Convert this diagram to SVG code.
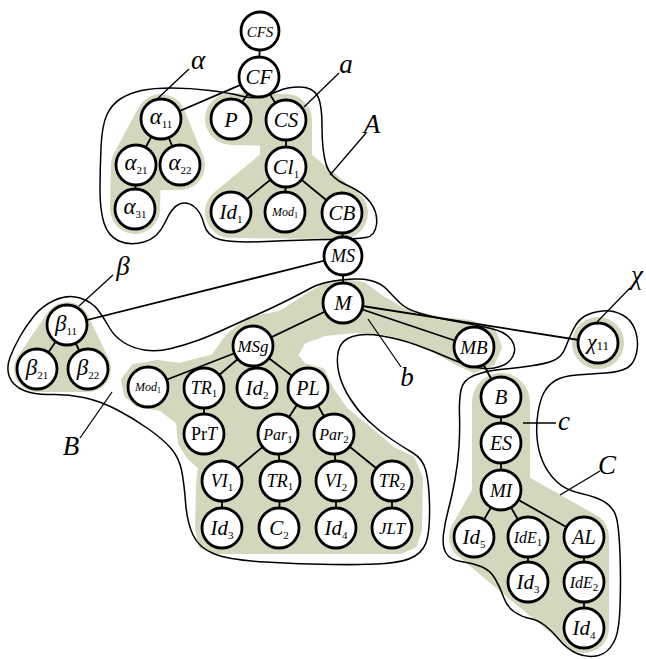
<svg xmlns="http://www.w3.org/2000/svg" width="646" height="659" viewBox="0 0 646 659" font-family="Liberation Serif, Times New Roman, serif">
<style>
.g{fill:#d4d7bd;stroke:#d4d7bd;stroke-linejoin:round;stroke-linecap:round}
.o{fill:none;stroke:#000;stroke-width:1.5}
#edges line{stroke:#000;stroke-width:1.8}
.n circle{fill:#fff;stroke:#000;stroke-width:2.8}
text{font-style:italic;text-anchor:middle;fill:#000}
.s{font-style:normal;font-size:11px}
.lab{font-size:27px}
.ld{stroke:#000;stroke-width:1.3}
</style>
<rect width="646" height="659" fill="#fff"/>
<g id="regions">
<path class="g" stroke-width="50" d="M161,119 L180,165 L136,165 L135,209 L136,165 Z"/>
<path class="g" stroke-width="52" d="M231,119 L286,120 L286,167 L231,212 L342,213 L286,167"/>
<path class="g" stroke-width="46" d="M67,325 L37,369 L88,369 Z"/>
<circle class="g" cx="598" cy="343" r="25" stroke-width="2"/>
<path class="g" stroke-width="58" fill="none" d="M501,402 L501,490"/>
<path class="g" stroke-width="50" d="M501,490 L584,537 L584,628 L528,582 L474,537 Z"/>
<path class="g" stroke-width="6" d="M343,282 L363,285 L378,296 L403,311 L440,320 L470,323 L492,330 L499,347 L492,363 L474,370 L455,361 L420,342 L385,332 L355,330 L325,333 L303,341 L295,355 L303,366 L322,371 L331,390 L345,410 L367,428 L393,450 L412,459 L420,478 L419,530 L414,545 L400,551 L215,551 L201,545 L198,528 L199,485 L201,467 L189,456 L181,443 L179,422 L161,408 L138,404 L127,395 L124,380 L134,367 L158,363 L180,366 L195,362 L214,357 L228,337 L248,320 L280,314 L305,298 L326,285 Z"/>
</g>
<g id="outlines">
<path id="A" class="o" d="M100,190 Q100,170 101,147.5 Q102,125 107,114.5 Q112,104 121,98.5 Q130,93 141.5,90.5 Q153,88 171.5,88 Q190,88 210,90.5 Q230,93 241,96 Q252,99 261,97 Q270,95 278.5,91 Q287,87 299.5,87 Q312,87 317,95 Q322,103 322,126.5 Q322,150 326,164 Q330,178 346.5,185 Q363,192 370.5,202.5 Q378,213 376.5,224.5 Q375,236 366,237.5 Q357,239 328.5,239.5 Q300,240 266,241.5 Q232,243 219.5,239.5 Q207,236 204,224 Q201,212 194,206.5 Q187,201 179.5,204 Q172,207 165,222.5 Q158,238 144,242 Q130,246 119,241 Q108,236 104,223 Q100,210 100,190 Z"/>
<path id="B" class="o" d="M34,316 Q42,306 55,300 Q68,294 80,298 Q92,302 98,310 Q104,318 109,327 Q114,336 123,342 Q132,348 144.5,350 Q157,352 171,348.5 Q185,345 197.5,340.5 Q210,336 225,329 Q240,322 255,315.5 Q270,309 285,301.5 Q300,294 311,288 Q322,282 341,280 Q360,278 370.5,280.5 Q381,283 387,289.5 Q393,296 399.5,302.5 Q406,309 419,313 Q432,317 454,321 Q476,325 491,328.5 Q506,332 511.5,340 Q517,348 513,356 Q509,364 498.5,367 Q488,370 476.5,367.5 Q465,365 449,358 Q433,351 416.5,345 Q400,339 382,336 Q364,333 352.5,336.5 Q341,340 338.5,350.5 Q336,361 339,373.5 Q342,386 350,398.5 Q358,411 368.5,421 Q379,431 391,439 Q403,447 413,453 Q423,459 426,471 Q429,483 429.5,504 Q430,525 427.5,537.5 Q425,550 415,556 Q405,562 385,563.5 Q365,565 332.5,564.5 Q300,564 265,562 Q230,560 214.5,554 Q199,548 193,535 Q187,522 185.5,502 Q184,482 181.5,470 Q179,458 171.5,449 Q164,440 148.5,429 Q133,418 116.5,409.5 Q100,401 83.5,397.5 Q67,394 51,394.5 Q35,395 24,390.5 Q13,386 9.5,377 Q6,368 10,357.5 Q14,347 20,336.5 Q26,326 34,316 Z"/>
<path id="C" class="o" d="M461,390 Q463,380 474,375.5 Q485,371 500,369.5 Q515,368 530,366 Q545,364 553.5,360.5 Q562,357 565.5,347.5 Q569,338 573.5,329 Q578,320 585,316 Q592,312 602.5,311 Q613,310 622.5,315 Q632,320 635.5,331 Q639,342 636.5,353 Q634,364 627,368 Q620,372 605,373 Q590,374 576.5,375 Q563,376 555.5,380.5 Q548,385 544,392.5 Q540,400 538,412.5 Q536,425 537,437.5 Q538,450 542.5,461 Q547,472 556,481 Q565,490 581,493.5 Q597,497 605.5,502.5 Q614,508 616.5,518 Q619,528 620,554 Q621,580 620,607 Q619,634 613.5,642.5 Q608,653 598.5,655.5 Q587,658 577,653.5 Q567,649 559.5,640 Q552,631 545,625.5 Q538,620 530,618.5 Q522,617 514.5,612 Q507,607 503.5,597 Q500,587 495,578.5 Q490,570 481,566.5 Q472,563 461,561.5 Q450,560 446,553 Q442,546 443.5,534 Q445,522 448.5,509 Q452,496 455,479.5 Q458,463 459,446.5 Q460,430 459.5,415 Q459,400 461,390 Z"/>
</g>
<g id="edges">
<line x1="260" y1="31" x2="259" y2="77"/>
<line x1="259" y1="77" x2="161" y2="119"/>
<line x1="259" y1="77" x2="231" y2="119"/>
<line x1="259" y1="77" x2="286" y2="120"/>
<line x1="161" y1="119" x2="136" y2="165"/>
<line x1="161" y1="119" x2="180" y2="165"/>
<line x1="136" y1="165" x2="135" y2="209"/>
<line x1="286" y1="120" x2="286" y2="167"/>
<line x1="286" y1="167" x2="231" y2="212"/>
<line x1="286" y1="167" x2="285" y2="212"/>
<line x1="286" y1="167" x2="342" y2="213"/>
<line x1="342" y1="213" x2="343" y2="256"/>
<line x1="343" y1="256" x2="343" y2="303"/>
<line x1="343" y1="256" x2="67" y2="325"/>
<line x1="67" y1="325" x2="37" y2="369"/>
<line x1="67" y1="325" x2="88" y2="369"/>
<line x1="343" y1="303" x2="253" y2="346"/>
<line x1="343" y1="303" x2="474" y2="347"/>
<line x1="343" y1="303" x2="598" y2="343"/>
<line x1="253" y1="346" x2="148" y2="387"/>
<line x1="253" y1="346" x2="204" y2="388"/>
<line x1="253" y1="346" x2="257" y2="388"/>
<line x1="253" y1="346" x2="308" y2="388"/>
<line x1="204" y1="388" x2="204" y2="434"/>
<line x1="308" y1="388" x2="278" y2="434"/>
<line x1="308" y1="388" x2="334" y2="434"/>
<line x1="278" y1="434" x2="222" y2="481"/>
<line x1="278" y1="434" x2="280" y2="481"/>
<line x1="334" y1="434" x2="336" y2="481"/>
<line x1="334" y1="434" x2="392" y2="481"/>
<line x1="222" y1="481" x2="222" y2="528"/>
<line x1="280" y1="481" x2="279" y2="528"/>
<line x1="336" y1="481" x2="336" y2="528"/>
<line x1="392" y1="481" x2="392" y2="528"/>
<line x1="474" y1="347" x2="501" y2="397"/>
<line x1="501" y1="397" x2="501" y2="443"/>
<line x1="501" y1="443" x2="501" y2="490"/>
<line x1="501" y1="490" x2="474" y2="537"/>
<line x1="501" y1="490" x2="528" y2="537"/>
<line x1="501" y1="490" x2="584" y2="537"/>
<line x1="528" y1="537" x2="528" y2="582"/>
<line x1="584" y1="537" x2="584" y2="582"/>
<line x1="584" y1="582" x2="584" y2="628"/>
</g>
<g id="n-CFS" class="n"><circle cx="260" cy="31" r="19"/><text x="260" y="36.5" font-size="15">CFS</text></g>
<g id="n-CF" class="n"><circle cx="259" cy="77" r="20"/><text x="259" y="84" font-size="21">CF</text></g>
<g id="n-a11" class="n"><circle cx="161" cy="119" r="20"/><text x="161" y="124" font-size="23">α<tspan class="s" dy="4">11</tspan></text></g>
<g id="n-P" class="n"><circle cx="231" cy="119" r="20"/><text x="231" y="126.5" font-size="22">P</text></g>
<g id="n-CS" class="n"><circle cx="286" cy="120" r="20"/><text x="286" y="127" font-size="21">CS</text></g>
<g id="n-a21" class="n"><circle cx="136" cy="165" r="20"/><text x="136" y="170" font-size="23">α<tspan class="s" dy="4">21</tspan></text></g>
<g id="n-a22" class="n"><circle cx="180" cy="165" r="20"/><text x="180" y="170" font-size="23">α<tspan class="s" dy="4">22</tspan></text></g>
<g id="n-Cl1" class="n"><circle cx="286" cy="167" r="20"/><text x="286" y="174" font-size="22">Cl<tspan class="s" dy="4">1</tspan></text></g>
<g id="n-a31" class="n"><circle cx="135" cy="209" r="20"/><text x="135" y="214" font-size="23">α<tspan class="s" dy="4">31</tspan></text></g>
<g id="n-Id1" class="n"><circle cx="231" cy="212" r="20"/><text x="231" y="219" font-size="21">Id<tspan class="s" dy="4">1</tspan></text></g>
<g id="n-Mod1a" class="n"><circle cx="285" cy="212" r="20"/><text x="285" y="216" font-size="12">Mod<tspan font-style="normal" font-size="8" dy="2">1</tspan></text></g>
<g id="n-CB" class="n"><circle cx="342" cy="213" r="20"/><text x="342" y="220" font-size="21">CB</text></g>
<g id="n-MS" class="n"><circle cx="343" cy="256" r="19"/><text x="343" y="262" font-size="18">MS</text></g>
<g id="n-M" class="n"><circle cx="343" cy="303" r="20"/><text x="343" y="310" font-size="21">M</text></g>
<g id="n-b11" class="n"><circle cx="67" cy="325" r="20"/><text x="66" y="331" font-size="23">β<tspan class="s" dy="4">11</tspan></text></g>
<g id="n-b21" class="n"><circle cx="37" cy="369" r="20"/><text x="37" y="375" font-size="23">β<tspan class="s" dy="4">21</tspan></text></g>
<g id="n-b22" class="n"><circle cx="88" cy="369" r="20"/><text x="88" y="375" font-size="23">β<tspan class="s" dy="4">22</tspan></text></g>
<g id="n-MSg" class="n"><circle cx="253" cy="346" r="20"/><text x="253" y="351.5" font-size="17">MSg</text></g>
<g id="n-MB" class="n"><circle cx="474" cy="347" r="20"/><text x="474" y="353.5" font-size="19">MB</text></g>
<g id="n-x11" class="n"><circle cx="598" cy="343" r="20"/><text x="598" y="349" font-size="22">χ<tspan font-style="normal" font-size="13" dy="1">11</tspan></text></g>
<g id="n-Mod1b" class="n"><circle cx="148" cy="387" r="20"/><text x="148" y="391" font-size="12">Mod<tspan font-style="normal" font-size="8" dy="2">1</tspan></text></g>
<g id="n-TR1a" class="n"><circle cx="204" cy="388" r="20"/><text x="204" y="394" font-size="18">TR<tspan class="s" dy="3">1</tspan></text></g>
<g id="n-Id2" class="n"><circle cx="257" cy="388" r="20"/><text x="257" y="394.5" font-size="21">Id<tspan class="s" dy="4">2</tspan></text></g>
<g id="n-PL" class="n"><circle cx="308" cy="388" r="20"/><text x="308" y="395" font-size="20">PL</text></g>
<g id="n-PrT" class="n"><circle cx="204" cy="434" r="20"/><text x="204" y="440" font-size="18"><tspan font-style="normal">Pr</tspan>T</text></g>
<g id="n-Par1" class="n"><circle cx="278" cy="434" r="20"/><text x="278" y="439.5" font-size="16">Par<tspan class="s" font-size="9" dy="3">1</tspan></text></g>
<g id="n-Par2" class="n"><circle cx="334" cy="434" r="20"/><text x="334" y="439.5" font-size="16">Par<tspan class="s" font-size="9" dy="3">2</tspan></text></g>
<g id="n-B" class="n"><circle cx="501" cy="397" r="20"/><text x="501" y="404" font-size="21">B</text></g>
<g id="n-ES" class="n"><circle cx="501" cy="443" r="20"/><text x="501" y="449.5" font-size="20">ES</text></g>
<g id="n-VI1" class="n"><circle cx="222" cy="481" r="20"/><text x="222" y="486.5" font-size="18">VI<tspan class="s" dy="4">1</tspan></text></g>
<g id="n-TR1b" class="n"><circle cx="280" cy="481" r="20"/><text x="280" y="486.5" font-size="18">TR<tspan class="s" dy="3">1</tspan></text></g>
<g id="n-VI2" class="n"><circle cx="336" cy="481" r="20"/><text x="336" y="486.5" font-size="18">VI<tspan class="s" dy="4">2</tspan></text></g>
<g id="n-TR2" class="n"><circle cx="392" cy="481" r="20"/><text x="392" y="486.5" font-size="18">TR<tspan class="s" dy="3">2</tspan></text></g>
<g id="n-MI" class="n"><circle cx="501" cy="490" r="20"/><text x="501" y="496.5" font-size="19">MI</text></g>
<g id="n-Id3a" class="n"><circle cx="222" cy="528" r="20"/><text x="222" y="534.5" font-size="21">Id<tspan class="s" dy="4">3</tspan></text></g>
<g id="n-C2" class="n"><circle cx="279" cy="528" r="20"/><text x="279" y="534.5" font-size="21">C<tspan class="s" dy="4">2</tspan></text></g>
<g id="n-Id4a" class="n"><circle cx="336" cy="528" r="20"/><text x="336" y="534.5" font-size="21">Id<tspan class="s" dy="4">4</tspan></text></g>
<g id="n-JLT" class="n"><circle cx="392" cy="528" r="20"/><text x="392" y="533.5" font-size="17">JLT</text></g>
<g id="n-Id5" class="n"><circle cx="474" cy="537" r="20"/><text x="474" y="543.5" font-size="21">Id<tspan class="s" dy="4">5</tspan></text></g>
<g id="n-IdE1" class="n"><circle cx="528" cy="537" r="20"/><text x="528" y="542.5" font-size="16">IdE<tspan class="s" font-size="9" dy="3">1</tspan></text></g>
<g id="n-AL" class="n"><circle cx="584" cy="537" r="20"/><text x="584" y="544" font-size="20">AL</text></g>
<g id="n-Id3b" class="n"><circle cx="528" cy="582" r="20"/><text x="528" y="588.5" font-size="21">Id<tspan class="s" dy="4">3</tspan></text></g>
<g id="n-IdE2" class="n"><circle cx="584" cy="582" r="20"/><text x="584" y="587.5" font-size="16">IdE<tspan class="s" font-size="9" dy="3">2</tspan></text></g>
<g id="n-Id4b" class="n"><circle cx="584" cy="628" r="20"/><text x="584" y="634.5" font-size="21">Id<tspan class="s" dy="4">4</tspan></text></g>
<g id="labels">
<line class="ld" x1="189" y1="69" x2="155" y2="101"/><text class="lab" x="198" y="69">α</text>
<line class="ld" x1="339" y1="73" x2="304" y2="107"/><text class="lab" x="346" y="73">a</text>
<line class="ld" x1="366" y1="133" x2="330" y2="175"/><text class="lab" x="372" y="133">A</text>
<line class="ld" x1="113" y1="275" x2="79" y2="306"/><text class="lab" x="123" y="275">β</text>
<line class="ld" x1="80" y1="438" x2="112" y2="392"/><text class="lab" x="71" y="455">B</text>
<line class="ld" x1="401" y1="367" x2="368" y2="319"/><text class="lab" x="407" y="386">b</text>
<line class="ld" x1="630" y1="288" x2="597" y2="322"/><text class="lab" x="637" y="284">χ</text>
<line class="ld" x1="523" y1="423" x2="556" y2="423"/><text class="lab" x="564" y="430">c</text>
<line class="ld" x1="560" y1="495" x2="600" y2="471"/><text class="lab" x="607" y="474">C</text>
</g>
</svg>
